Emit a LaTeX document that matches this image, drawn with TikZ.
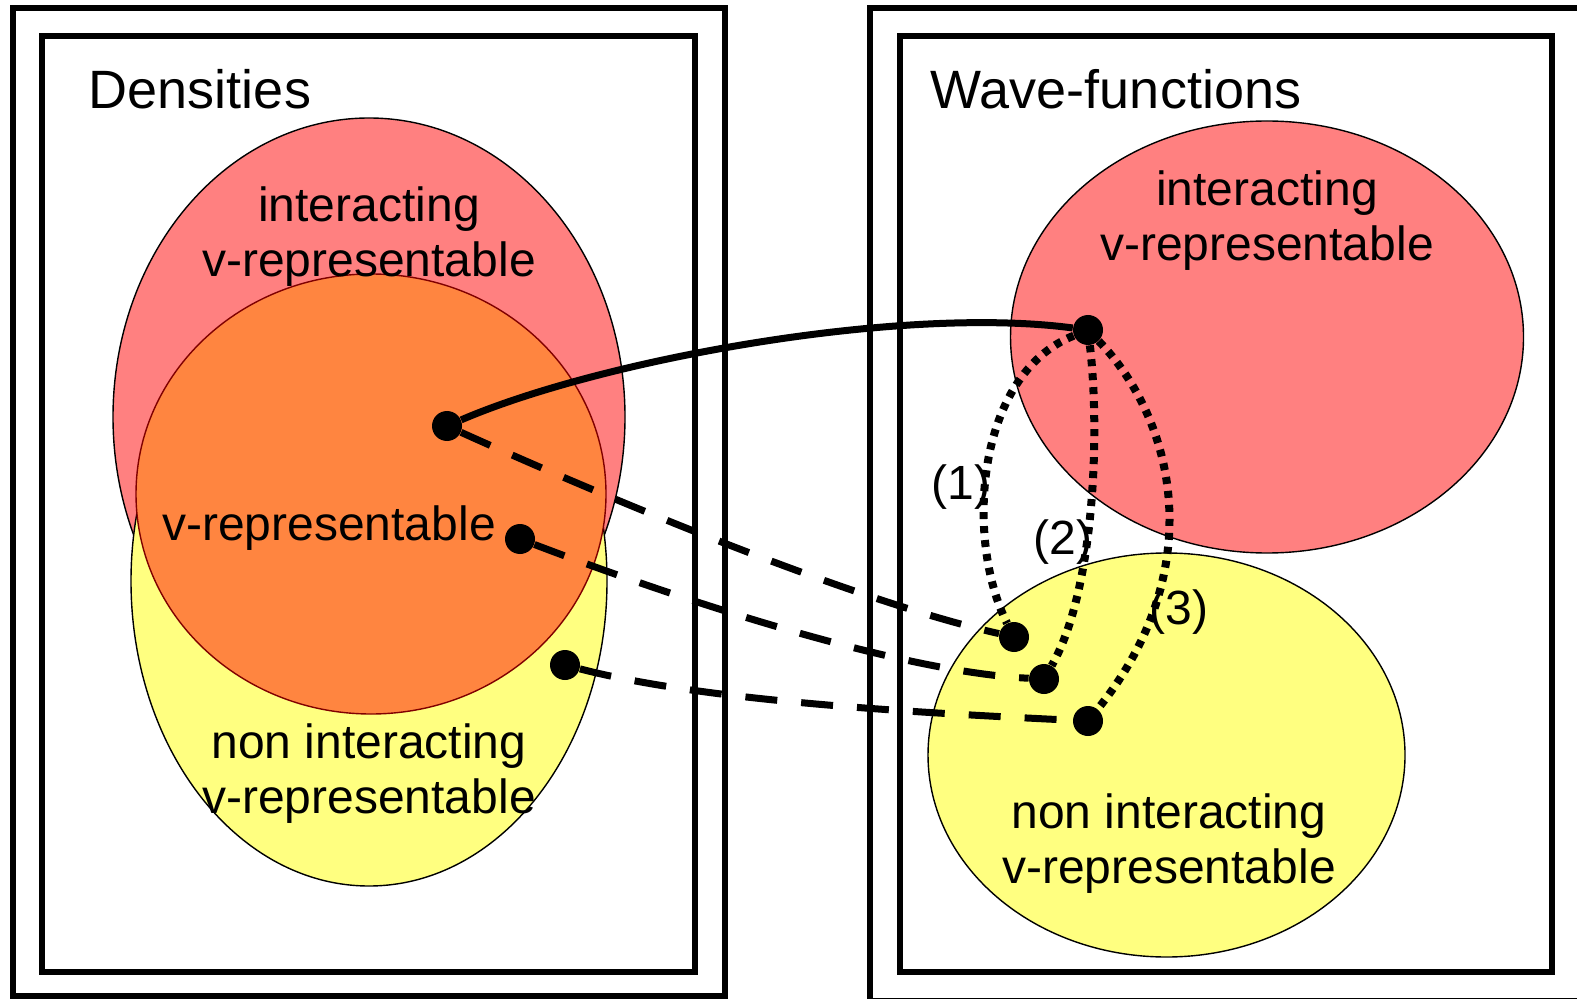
\documentclass[tikz,border=0pt]{standalone}
\usepackage{fontspec}
\setmainfont{Liberation Sans}
\definecolor{setred}{RGB}{255,128,128}
\definecolor{setorange}{RGB}{255,133,64}
\definecolor{setyellow}{RGB}{255,255,128}
\definecolor{setedge}{RGB}{128,0,0}
\tikzset{
  boxline/.style={draw=black, line width=3pt},
  region/.style={draw=black, line width=0.7pt},
  settitle/.style={font=\fontsize{27pt}{32pt}\selectfont, inner sep=0pt},
  setlabel/.style={font=\fontsize{24pt}{27.5pt}\selectfont, align=center, inner sep=0pt},
  dot/.style={circle, fill=black, inner sep=0pt, minimum size=15pt},
  solidmap/.style={draw, line width=3.5pt},
  dashmap/.style={draw, line width=3.5pt, dash pattern=on 16pt off 12pt},
  dotmap/.style={draw, line width=4pt, dash pattern=on 3.5pt off 3.5pt},
}

\begin{document}
\begin{tikzpicture}[x=0.5pt, y=-0.5pt]
  \useasboundingbox (0,0) rectangle (1577,999);
  \clip (0,0) rectangle (1577,999);

  % frames
  \draw[boxline] (13,8) rectangle (724.5,995.5);
  \draw[boxline] (42,36) rectangle (695,972);
  \draw[boxline] (870,8) rectangle (1600,1001);
  \draw[boxline] (899.5,36) rectangle (1552,972);

  % densities
  \draw[region, fill=setred] (369,417) ellipse [x radius=256, y radius=299];
  \draw[region, fill=setyellow] (369,581) ellipse [x radius=238, y radius=305];
  \draw[region, draw=setedge, fill=setorange] (371,494) ellipse [x radius=235, y radius=220];

  % wave-functions
  \draw[region, fill=setred] (1267,337) ellipse [x radius=256.5, y radius=216];
  \draw[region, fill=setyellow] (1166.5,755) ellipse [x radius=238.5, y radius=202];

  \node[settitle] (dens) at (200,89.5) {Densities};
  \node[settitle] (wave) at (1116,89.5) {Wave-functions};

  \node[setlabel] (dint) at (369,236.5) {interacting\\v-representable};
  \node[setlabel] (dvrep) at (329,528) {v-representable};
  \node[setlabel] (dnon) at (369,773.5) {non interacting\\v-representable};
  \node[setlabel] (wint) at (1267,221) {interacting\\v-representable};
  \node[setlabel] (wnon) at (1169,844) {non interacting\\v-representable};

  \node[setlabel] (n1) at (961,487) {(1)};
  \node[setlabel] (n2) at (1063,542) {(2)};
  \node[setlabel] (n3) at (1179,612) {(3)};

  % points
  \node[dot] (L1) at (447,426) {};
  \node[dot] (L2) at (520,539) {};
  \node[dot] (L3) at (565,665) {};
  \node[dot] (R0) at (1088,330) {};
  \node[dot] (R1) at (1014,637) {};
  \node[dot] (R2) at (1044,679) {};
  \node[dot] (R3) at (1088,721) {};

  \draw[solidmap] (L1) .. controls (600,360) and (900,305) .. (R0);
  \draw[dashmap] (L1) .. controls (600,495) and (850,600) .. (R1);
  \draw[dashmap] (L2) .. controls (680,600) and (900,672) .. (R2);
  \draw[dashmap] (L3) .. controls (700,700) and (900,712) .. (R3);

  \draw[dotmap] (R0) .. controls (975,375) and (965,540) .. (R1);
  \draw[dotmap] (R0) .. controls (1100,430) and (1095,590) .. (R2);
  \draw[dotmap] (R0) .. controls (1175,420) and (1210,570) .. (R3);
\end{tikzpicture}
\end{document}
